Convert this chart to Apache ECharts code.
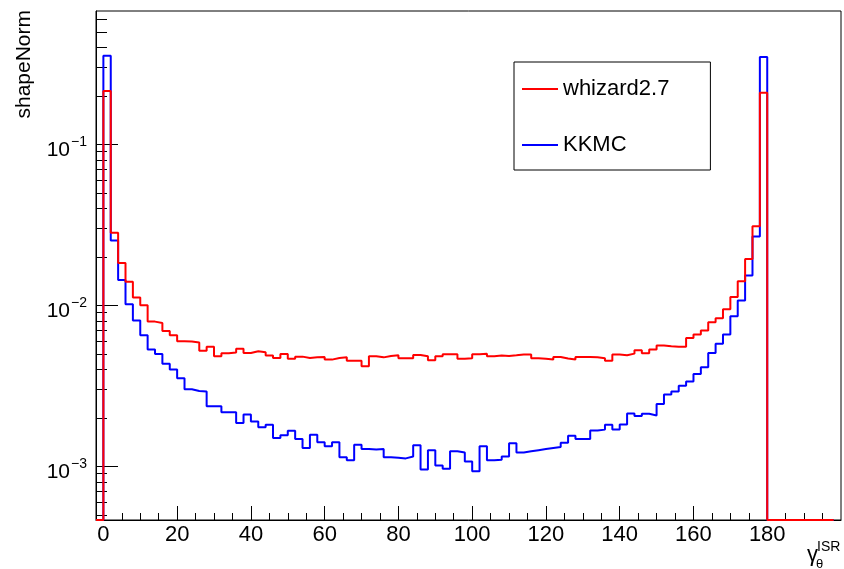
<!DOCTYPE html>
<html>
<head>
<meta charset="utf-8">
<script src="https://cdn.jsdelivr.net/npm/echarts@6/dist/echarts.min.js"></script>
<style>
  html, body { margin: 0; padding: 0; background: #ffffff; }
  #chart { width: 844px; height: 569px; }
</style>
</head>
<body>
<div id="chart"></div>
<script>
// Histogram binning: 100 bins of width 2 starting at -2
const binLow = -2;
const binWidth = 2;

// shapeNorm per bin (bins -2..198)
const whizard = [
  0,
  0.214, 0.0282, 0.0183, 0.0140, 0.0112, 0.0100, 0.00792, 0.00777, 0.00693, 0.00651,
  0.00598, 0.00595, 0.00587, 0.00523, 0.00552, 0.00482, 0.00504, 0.00509, 0.00538, 0.00506,
  0.00518, 0.00511, 0.00487, 0.00471, 0.00499, 0.00465, 0.00480, 0.00471, 0.00475, 0.00478,
  0.00460, 0.00471, 0.00475, 0.00452, 0.00452, 0.00418, 0.00482, 0.00475, 0.00485, 0.00489,
  0.00469, 0.00469, 0.00492, 0.00482, 0.00455, 0.00482, 0.00496, 0.00496, 0.00465, 0.00469,
  0.00496, 0.00501, 0.00482, 0.00487, 0.00485, 0.00489, 0.00494, 0.00494, 0.00469, 0.00465,
  0.00460, 0.00478, 0.00467, 0.00460, 0.00478, 0.00478, 0.00475, 0.00469, 0.00452, 0.00494,
  0.00489, 0.00501, 0.00526, 0.00504, 0.00531, 0.00562, 0.00556, 0.00552, 0.00552, 0.00627,
  0.00658, 0.00697, 0.00784, 0.00830, 0.00944, 0.01128, 0.0141, 0.0194, 0.0310, 0.209,
  0, 0, 0, 0, 0, 0, 0, 0, 0
];

const kkmc = [
  0,
  0.355, 0.0253, 0.01438, 0.01014, 0.00804, 0.00651, 0.00531, 0.00499, 0.00433, 0.00399,
  0.00352, 0.00301, 0.00294, 0.00292, 0.00236, 0.00236, 0.00217, 0.00217, 0.00186, 0.00210,
  0.00190, 0.00175, 0.00181, 0.00150, 0.00156, 0.00166, 0.00148, 0.00130, 0.00157, 0.00141,
  0.00133, 0.00141, 0.00114, 0.00109, 0.00136, 0.00128, 0.00127, 0.00128, 0.00114, 0.00113,
  0.00112, 0.00115, 0.00135, 0.000954, 0.00126, 0.00101, 0.000964, 0.00124, 0.00122, 0.00107,
  0.000931, 0.00133, 0.00109, 0.00110, 0.00115, 0.00139, 0.00122, 0.00124, 0.00126, 0.00128,
  0.00130, 0.00132, 0.00140, 0.00155, 0.00148, 0.00148, 0.00167, 0.00169, 0.00181, 0.00169,
  0.00182, 0.00213, 0.00205, 0.00212, 0.00207, 0.00244, 0.00279, 0.00292, 0.00317, 0.00336,
  0.00375, 0.00412, 0.00506, 0.00578, 0.00658, 0.00854, 0.0107, 0.0153, 0.0268, 0.349,
  0, 0, 0, 0, 0, 0, 0, 0, 0
];

const seriesNames = ['whizard2.7', 'KKMC'];

// Axis ranges and tick labels
const xMin = -2, xMax = 200;
const xMajorTicks = [0, 20, 40, 60, 80, 100, 120, 140, 160, 180];
const xMinorStep = 5;
const yMin = 4.64e-4, yMax = 0.673;
const yDecades = [-3, -2, -1];
const yMinorMultipliers = [2, 3, 4, 5, 6, 7, 8, 9];

const FONT = 'Liberation Sans, Arial, Helvetica, sans-serif';
const yLogMin = Math.log10(yMin);
const yLogMax = Math.log10(yMax);

// Minor tick positions
const xMinorTicks = [];
for (let v = xMinorStep; v < xMax; v += xMinorStep) {
  if (v % 20 !== 0) xMinorTicks.push(v);
}
const yMinorTicks = [];
for (let e = -4; e <= 0; e++) {
  yMinorMultipliers.forEach(m => {
    const lv = e + Math.log10(m);
    if (lv > yLogMin && lv < yLogMax) yMinorTicks.push(lv);
  });
}

// Step outline of a histogram in log10 space; empty bins sit on the frame floor
function histPoints(values) {
  const toY = v => (v > 0 ? Math.log10(v) : yLogMin);
  const pts = values.map((v, i) => [binLow + i * binWidth, toY(v)]);
  pts.push([binLow + values.length * binWidth, toY(values[values.length - 1])]);
  return pts;
}

const tickStyle = { color: '#000', width: 1 };

const chart = echarts.init(document.getElementById('chart'), null, { renderer: 'canvas' });
chart.setOption({
  animation: false,
  backgroundColor: '#ffffff',
  grid: {
    left: 96, top: 11, right: 3, bottom: 49,
    show: true, borderColor: '#000', borderWidth: 1, backgroundColor: 'transparent'
  },
  xAxis: [
    {
      type: 'value', min: xMin, max: xMax, position: 'bottom',
      axisLine: { show: true, onZero: false, lineStyle: { color: '#000', width: 1 } },
      axisTick: { show: true, inside: true, length: 14, customValues: xMajorTicks, lineStyle: tickStyle },
      axisLabel: {
        show: true, customValues: xMajorTicks, margin: 4,
        fontFamily: FONT, fontSize: 22, color: '#000'
      },
      splitLine: { show: false }
    },
    {
      type: 'value', min: xMin, max: xMax, position: 'bottom',
      axisLine: { show: false, onZero: false },
      axisTick: { show: true, inside: true, length: 7, customValues: xMinorTicks, lineStyle: tickStyle },
      axisLabel: { show: false },
      splitLine: { show: false }
    }
  ],
  yAxis: [
    {
      type: 'value', min: yLogMin, max: yLogMax, position: 'left',
      axisLine: { show: true, onZero: false, lineStyle: { color: '#000', width: 1 } },
      axisTick: { show: true, inside: true, length: 22, customValues: yDecades, lineStyle: tickStyle },
      axisLabel: {
        show: true, customValues: yDecades, margin: 9,
        padding: [7, 0, 0, 0],
        formatter: v => '{b|10}{s|\u2212' + Math.abs(Math.round(v)) + '}',
        rich: {
          b: { fontFamily: FONT, fontSize: 21, color: '#000', lineHeight: 26, verticalAlign: 'bottom' },
          s: { fontFamily: FONT, fontSize: 14, color: '#000', lineHeight: 26, verticalAlign: 'top', padding: [0, 0, 9, 1] }
        }
      },
      splitLine: { show: false }
    },
    {
      type: 'value', min: yLogMin, max: yLogMax, position: 'left',
      axisLine: { show: false, onZero: false },
      axisTick: { show: true, inside: true, length: 11, customValues: yMinorTicks, lineStyle: tickStyle },
      axisLabel: { show: false },
      splitLine: { show: false }
    }
  ],
  legend: {
    orient: 'vertical',
    left: 514, top: 62,
    data: seriesNames,
    icon: 'rect',
    itemWidth: 36, itemHeight: 2, itemGap: 32,
    padding: [15, 41, 13, 8],
    borderColor: '#000', borderWidth: 1, backgroundColor: '#ffffff',
    selectedMode: false,
    textStyle: { fontFamily: FONT, fontSize: 22, color: '#000', lineHeight: 24 }
  },
  graphic: [
    {
      type: 'text', x: 24, y: 10, rotation: Math.PI / 2,
      style: { text: 'shapeNorm', font: '21px ' + FONT, fill: '#000', align: 'right', verticalAlign: 'middle' }
    },
    {
      type: 'text', x: 807, y: 555,
      style: { text: '\u03b3', font: '22px ' + FONT, fill: '#000', align: 'left', verticalAlign: 'middle' }
    },
    {
      type: 'text', x: 817, y: 547,
      style: { text: 'ISR', font: '14px ' + FONT, fill: '#000', align: 'left', verticalAlign: 'middle' }
    },
    {
      type: 'text', x: 816, y: 564,
      style: { text: '\u03b8', font: '13px ' + FONT, fill: '#000', align: 'left', verticalAlign: 'middle' }
    }
  ],
  series: [
    {
      name: seriesNames[1], type: 'line', step: 'end',
      xAxisIndex: 0, yAxisIndex: 0,
      data: histPoints(kkmc),
      symbol: 'none', clip: false,
      lineStyle: { color: '#0000ff', width: 2 },
      itemStyle: { color: '#0000ff' }
    },
    {
      name: seriesNames[0], type: 'line', step: 'end',
      xAxisIndex: 0, yAxisIndex: 0,
      data: histPoints(whizard),
      symbol: 'none', clip: false,
      lineStyle: { color: '#ff0000', width: 2 },
      itemStyle: { color: '#ff0000' }
    }
  ]
});
</script>
</body>
</html>
